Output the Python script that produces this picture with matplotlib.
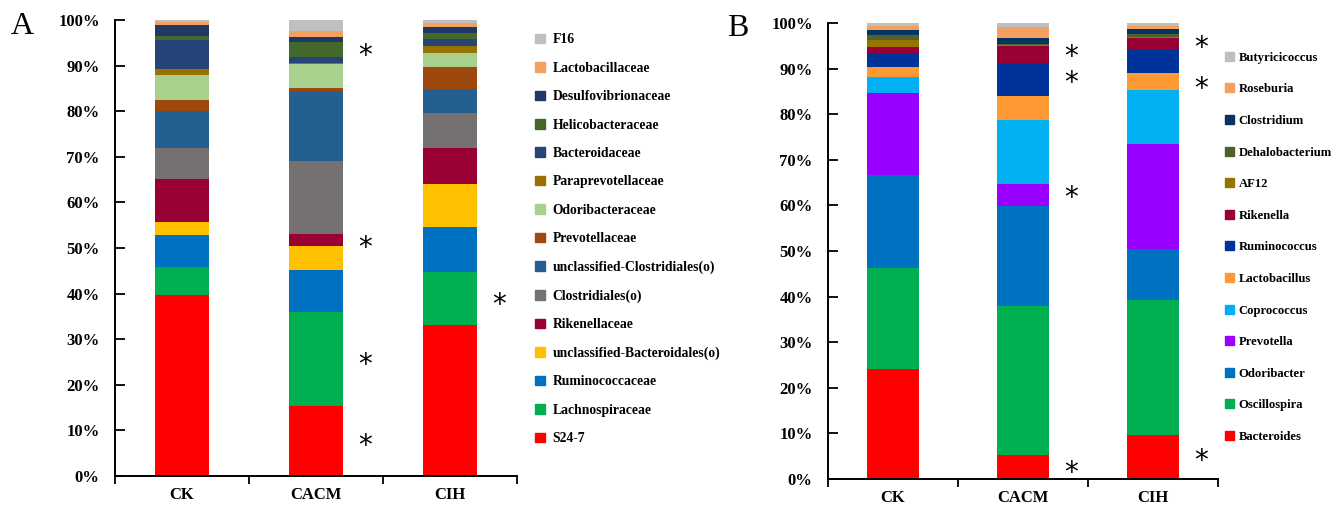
import numpy as np
import matplotlib
matplotlib.use("Agg")
import matplotlib.pyplot as plt
from matplotlib.patches import Patch

plt.rcParams['font.family'] = ['Liberation Serif', 'DejaVu Serif']

groups = ['CK', 'CACM', 'CIH']

# panel A, family level (bottom to top), percent
names_a = ['S24-7', 'Lachnospiraceae', 'Ruminococcaceae', 'unclassified-Bacteroidales(o)',
           'Rikenellaceae', 'Clostridiales(o)', 'unclassified-Clostridiales(o)', 'Prevotellaceae',
           'Odoribacteraceae', 'Paraprevotellaceae', 'Bacteroidaceae', 'Helicobacteraceae',
           'Desulfovibrionaceae', 'Lactobacillaceae', 'F16']
ck_a = [39.6, 6.2, 7.0, 2.9, 9.4, 6.9, 8.0, 2.5, 5.4, 1.4, 6.3, 1.0, 2.3, 0.6, 0.5]
cacm_a = [15.3, 20.7, 9.2, 5.2, 2.7, 16.0, 15.3, 0.7, 5.2, 0.3, 1.3, 3.3, 1.1, 1.3, 2.4]
cih_a = [33.1, 11.6, 9.8, 9.5, 7.9, 7.8, 5.2, 4.8, 3.1, 1.6, 1.4, 1.4, 1.3, 0.8, 0.7]
colors_a = ['#FF0000', '#00B050', '#0070C0', '#FFC000', '#990033', '#767171', '#255E91',
            '#9E480E', '#A9D18E', '#997300', '#264478', '#43682B', '#1F3864', '#F4A060', '#BFBFBF']

# panel B, genus level
names_b = ['Bacteroides', 'Oscillospira', 'Odoribacter', 'Prevotella', 'Coprococcus',
           'Lactobacillus', 'Ruminococcus', 'Rikenella', 'AF12', 'Dehalobacterium',
           'Clostridium', 'Roseburia', 'Butyricicoccus']
ck_b = [24.2, 22.1, 20.4, 18.0, 3.4, 2.3, 3.0, 1.4, 1.4, 1.2, 1.1, 0.9, 0.6]
cacm_b = [5.2, 32.8, 21.9, 4.9, 14.0, 5.1, 7.3, 3.8, 0.1, 0.4, 1.2, 2.4, 0.9]
cih_b = [9.6, 29.7, 11.1, 23.0, 11.9, 3.7, 5.2, 2.6, 0.2, 0.5, 1.1, 0.8, 0.6]
colors_b = ['#FF0000', '#00B050', '#0070C0', '#9900FF', '#00B0F0', '#FF9933', '#003399',
            '#990033', '#997300', '#4F6228', '#063462', '#F4A060', '#BFBFBF']

# significance stars: (group index, y percent)
stars_a = [(1, 93.0), (1, 51.1), (1, 25.4), (1, 7.5), (2, 38.6)]
stars_b = [(1, 93.6), (1, 87.9), (1, 62.7), (1, 2.4), (2, 95.6), (2, 86.6), (2, 5.0)]

fig = plt.figure(figsize=(13.34, 5.08), dpi=100)
ax_a = fig.add_axes([0.0862, 0.0630, 0.3013, 0.8976])
ax_b = fig.add_axes([0.6207, 0.0571, 0.2924, 0.8976])


def draw(ax, names, data, colors, stars):
    data = np.array(data)
    x = np.arange(len(groups))
    bottom = np.zeros(len(groups))
    for i, name in enumerate(names):
        ax.bar(x, data[:, i], 0.4, bottom=bottom, color=colors[i], label=name)
        bottom += data[:, i]
    for g, yv in stars:
        ax.text(g + 0.37, yv - 1.0, '*', fontsize=20, ha='center', va='center',
                family='DejaVu Sans')
    ax.set_xlim(-0.5, 2.5)
    ax.set_ylim(0, 100)
    ax.set_yticks(np.arange(0, 101, 10))
    ax.set_yticklabels(['%d%%' % v for v in range(0, 101, 10)])
    ax.set_xticks(x)
    ax.set_xticklabels(groups)
    ax.set_xticks([-0.5, 0.5, 1.5, 2.5], minor=True)
    ax.tick_params(axis='x', which='major', length=0, pad=8)
    ax.tick_params(axis='x', which='minor', length=6, width=1.3, direction='out')
    ax.tick_params(axis='y', length=7, width=1.3, direction='in', pad=11)
    for lab in ax.get_xticklabels() + ax.get_yticklabels():
        lab.set_fontweight('bold')
        lab.set_fontsize(12)
    for s in ['top', 'right']:
        ax.spines[s].set_visible(False)
    for s in ['left', 'bottom']:
        ax.spines[s].set_linewidth(1.4)


draw(ax_a, names_a, [ck_a, cacm_a, cih_a], colors_a, stars_a)
draw(ax_b, names_b, [ck_b, cacm_b, cih_b], colors_b, stars_b)

h_a = [Patch(color=c, label=n) for n, c in zip(names_a, colors_a)][::-1]
fig.legend(handles=h_a, loc='upper left', bbox_to_anchor=(0.397, 0.945), frameon=False,
           prop={'weight': 'bold', 'size': 9.8}, handlelength=0.7, handleheight=0.7,
           handletextpad=0.6, labelspacing=1.13, borderaxespad=0)
h_b = [Patch(color=c, label=n) for n, c in zip(names_b, colors_b)][::-1]
fig.legend(handles=h_b, loc='upper left', bbox_to_anchor=(0.9145, 0.908), frameon=False,
           prop={'weight': 'bold', 'size': 9.1}, handlelength=0.72, handleheight=0.72,
           handletextpad=0.35, labelspacing=1.55, borderaxespad=0)

fig.text(0.008, 0.948, 'A', fontsize=23, va='center')
fig.text(0.545, 0.944, 'B', fontsize=23, va='center')

fig.savefig('out.png', dpi=100)
